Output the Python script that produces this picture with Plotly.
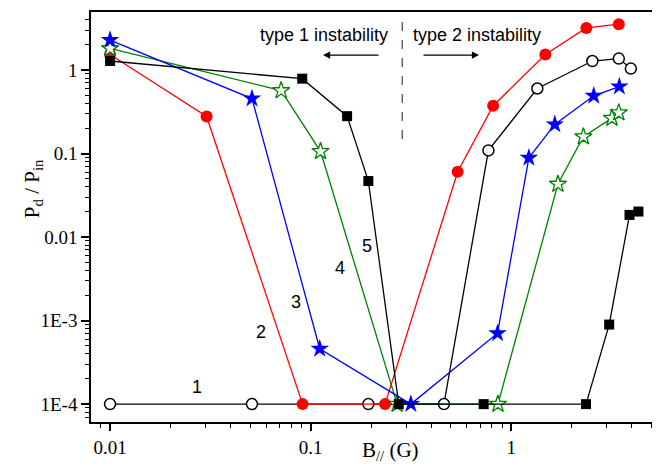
import plotly.graph_objects as go

# Series data (B_parallel in G, Pd/Pin)
x1 = [0.01, 0.051, 0.194, 0.462, 0.77, 1.35, 2.54, 3.44, 3.95]
y1 = [1e-4, 1e-4, 1e-4, 1e-4, 0.109, 0.60, 1.28, 1.37, 1.04]

x2 = [0.01, 0.0303, 0.0912, 0.235, 0.541, 0.813, 1.48, 2.37, 3.44]
y2 = [1.53, 0.278, 1e-4, 1e-4, 0.0604, 0.373, 1.53, 3.19, 3.53]

x3 = [0.01, 0.051, 0.111, 0.316, 0.855, 1.225, 1.65, 2.58, 3.46]
y3 = [2.28, 0.455, 4.6e-4, 1e-4, 7.06e-4, 0.0887, 0.223, 0.49, 0.633]

x4 = [0.01, 0.0713, 0.112, 0.27, 0.859, 1.71, 2.29, 3.18, 3.44]
y4 = [1.81, 0.567, 0.106, 1e-4, 1e-4, 0.0431, 0.159, 0.265, 0.308]

x5 = [0.01, 0.0908, 0.152, 0.194, 0.275, 0.729, 2.36, 3.08, 3.89, 4.31]
y5 = [1.28, 0.787, 0.28, 0.0468, 1e-4, 1e-4, 1e-4, 8.96e-4, 0.0184, 0.0202]

y_tickvals = [1e-4, 1e-3, 0.01, 0.1, 1]
y_ticktext = ["1E-4", "1E-3", "0.01", "0.1", "1"]
x_tickvals = [0.01, 0.1, 1]
x_ticktext = ["0.01", "0.1", "1"]

curve_labels = ["1", "2", "3", "4", "5"]

fig = go.Figure()

fig.add_trace(go.Scatter(x=x1, y=y1, mode="lines+markers",
                         line=dict(color="black", width=1.3),
                         marker=dict(symbol="circle", size=11, color="white",
                                     line=dict(color="black", width=1.5))))
fig.add_trace(go.Scatter(x=x2, y=y2, mode="lines+markers",
                         line=dict(color="#FF0000", width=1.3),
                         marker=dict(symbol="circle", size=12, color="#FF0000",
                                     line=dict(width=0))))
fig.add_trace(go.Scatter(x=x4, y=y4, mode="lines+markers",
                         line=dict(color="#008000", width=1.3),
                         marker=dict(symbol="star", size=13, color="white",
                                     line=dict(color="#008000", width=1.3))))
fig.add_trace(go.Scatter(x=x3, y=y3, mode="lines+markers",
                         line=dict(color="#0000FF", width=1.3),
                         marker=dict(symbol="star", size=14, color="#0000FF",
                                     line=dict(width=0))))
fig.add_trace(go.Scatter(x=x5, y=y5, mode="lines+markers",
                         line=dict(color="black", width=1.3),
                         marker=dict(symbol="square", size=10, color="black",
                                     line=dict(width=0))))

# minor tick positions
y_minor = [m * 10.0 ** e for e in range(-5, 1) for m in range(2, 10)]
x_minor = [m * 10.0 ** e for e in range(-3, 1) for m in range(2, 10)]

# page pixel geometry (browser body margin of 8px compensated)
OX, OY = 8, 8
L, R, T, B = 91, 653, 10, 422
W, H = 660 - OX, 468 - OY

def px(xp):
    return (xp - L) / (R - L)

def py(yp):
    return (B - yp) / (B - T)

tick_font = dict(family="Liberation Serif", size=19, color="black")

fig.update_xaxes(type="log", range=[-2.095, 0.707],
                 tickmode="array", tickvals=x_tickvals, ticktext=x_ticktext,
                 ticks="outside", ticklen=7, tickwidth=1.5, tickcolor="black",
                 showline=True, linecolor="black", linewidth=1.5, mirror=True,
                 showgrid=False, zeroline=False, tickfont=tick_font,
                 minor=dict(tickmode="array", tickvals=x_minor, ticks="outside",
                            ticklen=4, tickwidth=1.2, tickcolor="black", showgrid=False))
fig.update_yaxes(type="log", range=[-4.214, 0.694],
                 tickmode="array", tickvals=y_tickvals, ticktext=y_ticktext,
                 ticks="outside", ticklen=8, tickwidth=1.5, tickcolor="black",
                 showline=True, linecolor="black", linewidth=1.5, mirror=True,
                 showgrid=False, zeroline=False, tickfont=tick_font,
                 minor=dict(tickmode="array", tickvals=y_minor, ticks="outside",
                            ticklen=4, tickwidth=1.2, tickcolor="black", showgrid=False))

ann_font = dict(family="Liberation Sans", size=18, color="black")
annotations = []
label_pos = [(197, 387), (261, 332), (296, 301), (340, 267), (367, 245)]
for lab, (xp, yp) in zip(curve_labels, label_pos):
    annotations.append(dict(text=lab, x=px(xp), y=py(yp), xref="paper", yref="paper",
                            showarrow=False, font=ann_font, xanchor="center", yanchor="middle"))

annotations.append(dict(text="type 1 instability", x=px(324), y=py(33), xref="paper", yref="paper",
                        showarrow=False, font=ann_font, xanchor="center", yanchor="middle"))
annotations.append(dict(text="type 2 instability", x=px(477), y=py(33), xref="paper", yref="paper",
                        showarrow=False, font=ann_font, xanchor="center", yanchor="middle"))
# arrows
annotations.append(dict(text="", x=px(323), y=py(53.3), xref="paper", yref="paper",
                        ax=57, ay=0, axref="pixel", ayref="pixel", showarrow=True,
                        arrowhead=2, arrowsize=1.1, arrowwidth=1.3, arrowcolor="black"))
annotations.append(dict(text="", x=px(479), y=py(53.3), xref="paper", yref="paper",
                        ax=-57, ay=0, axref="pixel", ayref="pixel", showarrow=True,
                        arrowhead=2, arrowsize=1.1, arrowwidth=1.3, arrowcolor="black"))

# axis titles
annotations.append(dict(text="B<sub>//</sub> (G)", x=px(390), y=py(451), xref="paper", yref="paper",
                        showarrow=False, xanchor="center", yanchor="middle",
                        font=dict(family="Liberation Serif", size=21, color="black")))
annotations.append(dict(text="P<sub>d</sub> / P<sub>in</sub>", x=px(33), y=py(188), xref="paper", yref="paper",
                        showarrow=False, xanchor="center", yanchor="middle", textangle=-90,
                        font=dict(family="Liberation Serif", size=21, color="black")))

shapes = [dict(type="line", xref="paper", yref="paper", x0=px(402.3), x1=px(402.3),
               y0=py(20), y1=py(140), line=dict(color="#666666", width=1.5, dash="dash"))]

fig.update_layout(width=W, height=H,
                  margin=dict(l=L - OX, r=660 - R, t=T - OY, b=468 - B),
                  paper_bgcolor="white", plot_bgcolor="white", showlegend=False,
                  annotations=annotations, shapes=shapes)

fig.write_html("out.html")
